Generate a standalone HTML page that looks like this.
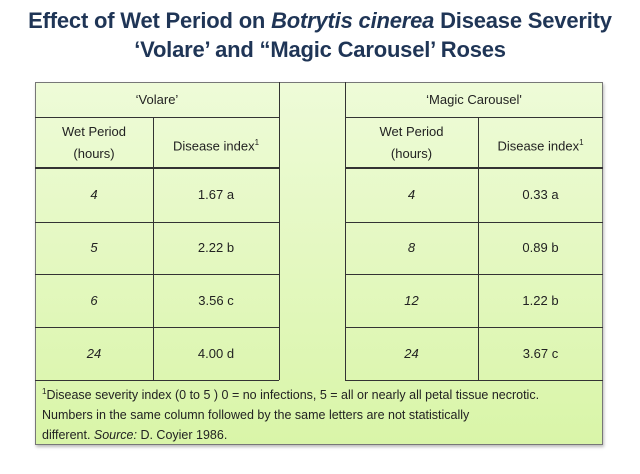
<!DOCTYPE html>
<html><head><meta charset="utf-8"><style>
body{margin:0;width:640px;height:474px;background:#fff;position:relative;overflow:hidden;font-family:"Liberation Sans",sans-serif}
.t{position:absolute;left:0;width:640px;text-align:center;font-weight:bold;color:#1f3556;font-size:22px;letter-spacing:-0.2px}
.box{position:absolute;left:35px;top:82px;width:568px;height:363px;background:linear-gradient(#eefbd8,#d9f5a8);border:1px solid #777;box-sizing:border-box;box-shadow:1px 2px 3px #bbb}
.l{position:absolute;background:#333}
.c{position:absolute;text-align:center;font-size:13px;color:#222;line-height:22px}
</style></head><body>
<div class="t" style="top:8px">Effect of Wet Period on <i>Botrytis cinerea</i> Disease Severity</div>
<div class="t" style="top:37px">‘Volare’ and “Magic Carousel’ Roses</div>
<div class="box"></div>
<div class="l" style="left:279px;top:82px;width:1px;height:298px"></div>
<div class="l" style="left:345px;top:82px;width:1px;height:298px"></div>
<div class="l" style="left:153px;top:117px;width:1px;height:263px"></div>
<div class="l" style="left:478px;top:117px;width:1px;height:263px"></div>
<div class="l" style="left:35px;top:117px;width:244px;height:1px"></div>
<div class="l" style="left:345px;top:117px;width:258px;height:1px"></div>
<div class="l" style="left:35px;top:167px;width:244px;height:2px"></div>
<div class="l" style="left:345px;top:167px;width:258px;height:2px"></div>
<div class="l" style="left:35px;top:222px;width:244px;height:1px"></div>
<div class="l" style="left:345px;top:222px;width:258px;height:1px"></div>
<div class="l" style="left:35px;top:274px;width:244px;height:1px"></div>
<div class="l" style="left:345px;top:274px;width:258px;height:1px"></div>
<div class="l" style="left:35px;top:327px;width:244px;height:1px"></div>
<div class="l" style="left:345px;top:327px;width:258px;height:1px"></div>
<div class="l" style="left:35px;top:380px;width:244px;height:1px"></div>
<div class="l" style="left:345px;top:380px;width:258px;height:1px"></div>
<div class="c" style="left:35px;width:244px;top:89px">‘Volare’</div>
<div class="c" style="left:345px;width:258px;top:89px">‘Magic Carousel'</div>
<div class="c" style="left:35px;width:118px;top:121px">Wet Period<br>(hours)</div>
<div class="c" style="left:153px;width:126px;top:132px">Disease index<sup style="font-size:8px">1</sup></div>
<div class="c" style="left:345px;width:133px;top:121px">Wet Period<br>(hours)</div>
<div class="c" style="left:478px;width:125px;top:132px">Disease index<sup style="font-size:8px">1</sup></div>
<div class="c" style="left:35px;width:118px;top:184px"><i>4</i></div><div class="c" style="left:153px;width:126px;top:184px">1.67 a</div>
<div class="c" style="left:345px;width:133px;top:184px"><i>4</i></div><div class="c" style="left:478px;width:125px;top:184px">0.33 a</div>
<div class="c" style="left:35px;width:118px;top:237px"><i>5</i></div><div class="c" style="left:153px;width:126px;top:237px">2.22 b</div>
<div class="c" style="left:345px;width:133px;top:237px"><i>8</i></div><div class="c" style="left:478px;width:125px;top:237px">0.89 b</div>
<div class="c" style="left:35px;width:118px;top:290px"><i>6</i></div><div class="c" style="left:153px;width:126px;top:290px">3.56 c</div>
<div class="c" style="left:345px;width:133px;top:290px"><i>12</i></div><div class="c" style="left:478px;width:125px;top:290px">1.22 b</div>
<div class="c" style="left:35px;width:118px;top:343px"><i>24</i></div><div class="c" style="left:153px;width:126px;top:343px">4.00 d</div>
<div class="c" style="left:345px;width:133px;top:343px"><i>24</i></div><div class="c" style="left:478px;width:125px;top:343px">3.67 c</div>
<div style="position:absolute;left:42px;top:382px;font-size:12.5px;line-height:20px;color:#222;white-space:nowrap"><sup style="font-size:8px">1</sup>Disease severity index (0 to 5 ) 0 = no infections, 5 = all or nearly all petal tissue necrotic.<br>Numbers in the same column followed by the same letters are not statistically<br>different. <i>Source:</i> D. Coyier 1986.</div>
</body></html>
